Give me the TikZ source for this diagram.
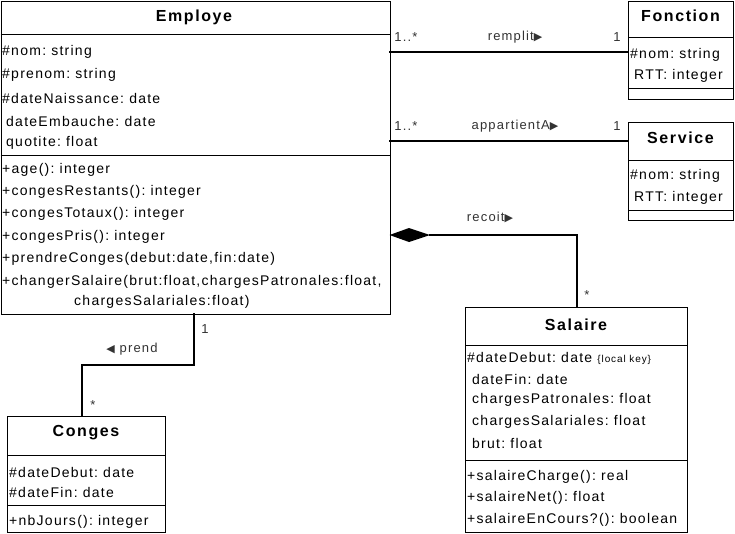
\documentclass[tikz,border=0pt]{standalone}
\usepackage{fontspec}
\setmainfont{Liberation Sans}[LetterSpace=9]
\newfontfamily\ttlfont{Liberation Sans}[LetterSpace=10]
\newfontfamily\dv{DejaVu Sans}
\begin{document}
\begin{tikzpicture}[x=1pt,y=-1pt,
  box/.style={draw,line width=1pt,anchor=north west,inner sep=0pt},
  ttl/.style={font=\ttlfont\bfseries\fontsize{16}{18}\selectfont,inner sep=0pt},
  txt/.style={anchor=west,font=\frenchspacing\fontsize{14}{16}\selectfont,inner sep=0pt},
  lbl/.style={font=\frenchspacing\fontsize{13}{15}\selectfont,text=black!80,inner sep=0pt},
  tri/.style={},
  sep/.style={line width=1pt},
  assoc/.style={line width=2pt}]
\newcommand\rtri{{\dv\fontsize{11}{12}\selectfont ▶}}
\newcommand\ltri{{\dv\fontsize{11}{12}\selectfont ◀}}
\useasboundingbox (0,0) rectangle (735,533);
\fill[white] (0,0) rectangle (735,533);
% Employe
\node[box,minimum width=389,minimum height=313] (emp) at (0.5,0.5) {};
\node[ttl] (empt) at (194,17) {Employe};
\draw[sep] (0.5,34) -- (389.5,34);
\draw[sep] (0.5,155) -- (389.5,155);
\node[txt] (e1) at (2,52) {\#nom: string};
\node[txt] (e2) at (2,75) {\#prenom: string};
\node[txt] (e3) at (2,98) {\#dateNaissance: date};
\node[txt] (e4) at (6,121) {dateEmbauche: date};
\node[txt] (e5) at (6,143) {quotite: float};
\node[txt] (m1) at (2,170) {+age(): integer};
\node[txt] (m2) at (2,192) {+congesRestants(): integer};
\node[txt] (m3) at (2,214) {+congesTotaux(): integer};
\node[txt] (m4) at (2,237) {+congesPris(): integer};
\node[txt] (m5) at (2,259) {+prendreConges(debut:date,fin:date)};
\node[txt] (m6) at (2,282) {+changerSalaire(brut:float,chargesPatronales:float,};
\node[txt] (m7) at (74,302) {chargesSalariales:float)};
% Fonction
\node[box,minimum width=105,minimum height=98] (fon) at (628,0.5) {};
\node[ttl] (font) at (680.5,16) {Fonction};
\draw[sep] (628,37) -- (733,37);
\draw[sep] (628,88) -- (733,88);
\node[txt] (f1) at (630,55) {\#nom: string};
\node[txt] (f2) at (634,76) {RTT: integer};
% Service
\node[box,minimum width=105,minimum height=98] (ser) at (628,122) {};
\node[ttl] (sert) at (680.5,138) {Service};
\draw[sep] (628,160) -- (733,160);
\draw[sep] (628,210) -- (733,210);
\node[txt] (s1) at (630,176) {\#nom: string};
\node[txt] (s2) at (634,198) {RTT: integer};
% Salaire
\node[box,minimum width=222,minimum height=225] (sal) at (465,307) {};
\node[ttl] (salt) at (576,325) {Salaire};
\draw[sep] (465,345) -- (687,345);
\draw[sep] (465,460) -- (687,460);
\node[txt] (a1) at (467,358) {\#dateDebut: date {\fontsize{10}{11}\selectfont\{local key\}}};
\node[txt] (a2) at (472,379) {dateFin: date};
\node[txt] (a3) at (472,400) {chargesPatronales: float};
\node[txt] (a4) at (472,422) {chargesSalariales: float};
\node[txt] (a5) at (472,443) {brut: float};
\node[txt] (b1) at (467,477) {+salaireCharge(): real};
\node[txt] (b2) at (467,498) {+salaireNet(): float};
\node[txt] (b3) at (467,520) {+salaireEnCours?(): boolean};
% Conges
\node[box,minimum width=158,minimum height=116] (con) at (7,416) {};
\node[ttl] (cont) at (86,433) {Conges};
\draw[sep] (7,455) -- (165,455);
\draw[sep] (7,505) -- (165,505);
\node[txt] (c1) at (9,472) {\#dateDebut: date};
\node[txt] (c2) at (9,492) {\#dateFin: date};
\node[txt] (c3) at (9,522) {+nbJours(): integer};
% associations
\draw[assoc] (389,52) -- (628,52);
\node[lbl] at (406,37) {1..*};
\node[lbl] at (515,37) {remplit\rtri};
\node[lbl] at (617,37) {1};
\draw[line width=1.5pt] (389,141) -- (628,141);
\node[lbl] at (406,126) {1..*};
\node[lbl] at (515,126) {appartientA\rtri};
\node[lbl] at (617,126) {1};
\coordinate (dtip) at (389.5,235);
\coordinate (dend) at (430,235);
\fill (dtip) -- (409,228) -- (dend) -- (409,242) -- cycle;
\draw[assoc,line cap=rect] (dend) -- (577,235) -- (577,307);
\node[lbl] at (490,217) {recoit\rtri};
\node[lbl] at (587,295) {*};
\draw[assoc] (194,313) -- (194,365) -- (82,365) -- (82,416);
\node[lbl] at (205,329) {1};
\node[lbl] at (132,349) {\ltri\ prend};
\node[lbl] at (93,405) {*};
\end{tikzpicture}
\end{document}
